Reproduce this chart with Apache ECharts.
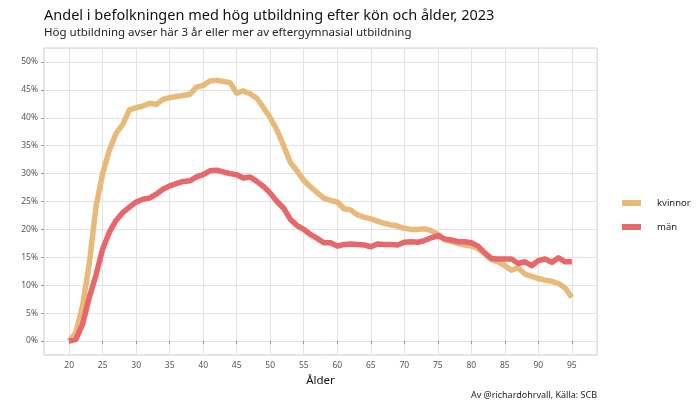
<!DOCTYPE html>
<html><head><meta charset="utf-8">
<script src="https://cdn.jsdelivr.net/npm/echarts@6/dist/echarts.min.js"></script>
<style>html,body{margin:0;padding:0;background:#fff}#c{width:700px;height:405px}</style>
</head><body><div id="c"></div>
<script>
const ages = [];
for (let a = 20; a <= 95; a++) ages.push(a);
const kvinnor = [0,1.5,6.3,13.8,24.0,30.0,34.2,37.2,38.8,41.4,41.8,42.1,42.6,42.4,43.3,43.6,43.8,44.0,44.2,45.5,45.8,46.6,46.7,46.5,46.3,44.4,44.8,44.3,43.5,41.8,40.0,37.8,35.0,32.0,30.5,28.8,27.6,26.6,25.6,25.2,24.9,23.7,23.5,22.6,22.2,21.9,21.5,21.1,20.8,20.6,20.2,20.0,20.0,20.1,19.8,19.1,18.2,17.8,17.5,17.2,17.0,16.6,15.6,14.6,14.2,13.5,12.7,13.1,12.0,11.6,11.2,10.9,10.7,10.3,9.5,7.8];
const man = [0,0.3,3.0,7.8,11.8,16.5,19.5,21.6,23.0,24.0,24.9,25.4,25.6,26.3,27.2,27.8,28.2,28.6,28.7,29.4,29.8,30.5,30.6,30.3,30.0,29.8,29.2,29.4,28.6,27.7,26.5,25.0,23.8,21.8,20.7,20.0,19.1,18.4,17.6,17.6,17.0,17.3,17.4,17.3,17.2,16.9,17.4,17.3,17.3,17.2,17.7,17.8,17.7,18.0,18.5,18.9,18.3,18.1,17.8,17.8,17.6,17.0,15.8,14.8,14.7,14.7,14.7,13.9,14.2,13.5,14.4,14.7,14.1,14.9,14.2,14.2];
const xTicks = [20,25,30,35,40,45,50,55,60,65,70,75,80,85,90,95];
const yTicks = [0,5,10,15,20,25,30,35,40,45,50];
const titleText = 'Andel i befolkningen med hög utbildning efter kön och ålder, 2023';
const subText = 'Hög utbildning avser här 3 år eller mer av eftergymnasial utbildning';
const caption = 'Av @richardohrvall, Källa: SCB';
const font = '"Noto Sans", "Open Sans", sans-serif';

const chart = echarts.init(document.getElementById('c'), null, {renderer: 'canvas'});
chart.setOption({
  animation: false,
  backgroundColor: '#fff',
  title: [{
    text: titleText, subtext: subText, left: 39, top: 3, itemGap: 4,
    textStyle: {fontFamily: font, fontSize: 14.5, fontWeight: 'normal', color: '#111'},
    subtextStyle: {fontFamily: font, fontSize: 11.5, color: '#222'}
  }, {
    text: caption, right: 98, bottom: 0,
    textStyle: {fontFamily: font, fontSize: 9, fontWeight: 'normal', color: '#222'}
  }],
  legend: {
    orient: 'vertical', left: 617, top: 193, itemWidth: 19, itemHeight: 6, itemGap: 14,
    icon: 'rect',
    textStyle: {fontFamily: font, fontSize: 9.5, color: '#222', padding: [0,0,0,11]},
    data: ['kvinnor', 'män']
  },
  grid: {left: 44, right: 103, top: 48, bottom: 50, show: true, borderColor: '#cccccc', borderWidth: 1},
  xAxis: {
    type: 'value', min: 16.25, max: 98.75,
    name: 'Ålder', nameLocation: 'middle', nameGap: 20,
    nameTextStyle: {fontFamily: font, fontSize: 11.5, color: '#111'},
    axisLine: {show: false},
    axisTick: {show: true, length: 3, customValues: xTicks, lineStyle: {color: '#999'}},
    axisLabel: {customValues: xTicks, fontFamily: font, fontSize: 8.5, color: '#555', margin: 6},
    splitLine: {show: true, lineStyle: {color: '#e3e3e3', width: 1}}
  },
  yAxis: {
    type: 'value', min: -2.5, max: 52.5,
    axisLine: {show: false},
    axisTick: {show: true, length: 3, customValues: yTicks, lineStyle: {color: '#999'}},
    axisLabel: {customValues: yTicks, formatter: v => v + '%', fontFamily: font, fontSize: 8.5, color: '#555', margin: 6},
    splitLine: {show: true, lineStyle: {color: '#e3e3e3', width: 1}}
  },
  series: [{
    name: 'kvinnor', type: 'line', showSymbol: false, symbol: 'none',
    itemStyle: {color: '#e8ba7a'},
    lineStyle: {color: '#e8ba7a', width: 5.5, join: 'round'},
    data: ages.map((a, i) => [a, kvinnor[i]])
  }, {
    name: 'män', type: 'line', showSymbol: false, symbol: 'none',
    itemStyle: {color: '#e8676a'},
    lineStyle: {color: '#e8676a', width: 5.5, join: 'round'},
    data: ages.map((a, i) => [a, man[i]])
  }]
});
</script></body></html>
